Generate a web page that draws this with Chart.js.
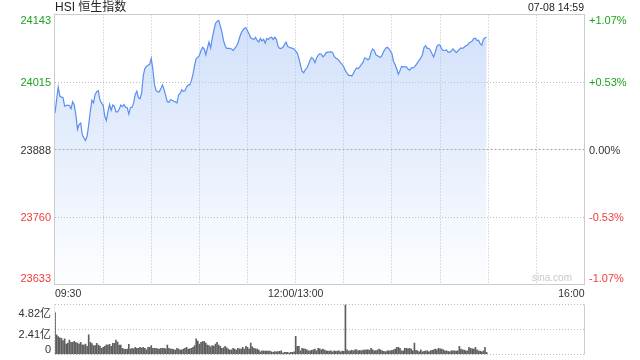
<!DOCTYPE html>
<html lang="zh-CN">
<head>
<meta charset="UTF-8">
<title>HSI 恒生指数</title>
<script src="https://cdn.jsdelivr.net/npm/chart.js"></script>
<style>
    html, body { margin: 0; padding: 0; background: #fff; }
    body {
        width: 640px; height: 360px; position: relative; overflow: hidden;
        font-family: "Liberation Sans", Arial, "Noto Sans CJK SC", sans-serif;
        color: #333;
    }
    canvas { position: absolute; left: 0; }
    #main { top: 0; }
    #vol { top: 296px; }
    .title { position: absolute; left: 55px; top: 0; font-size: 12px; line-height: 15px; color: #222; }
    .stamp { position: absolute; right: 56px; top: 0; font-size: 10.5px; line-height: 15px; color: #222; }
    .mark { position: absolute; left: 532px; top: 272px; font-size: 10px; line-height: 12px; color: #c8c8c8; }
</style>
</head>
<body>
<canvas id="main" width="640" height="360"></canvas>
<canvas id="vol" width="640" height="64"></canvas>
<div class="title">HSI 恒生指数</div>
<div class="stamp">07-08 14:59</div>
<div class="mark">sina.com</div>

<script>
    // previous close and minute data (index 0 = 09:30, 150 = 12:00/13:00)
    const prevClose = 23888;
    const sessionMinutes = 330;

    const prices = [
        23957, 23982, 24006, 23989, 23987, 23986, 23970, 23971, 23972, 23971,
        23965, 23978, 23972, 23954, 23926, 23935, 23938, 23916, 23910, 23905,
        23913, 23935, 23960, 23981, 23976, 23992, 23997, 23999, 23982, 23976,
        23972, 23951, 23943, 23960, 23973, 23962, 23972, 23970, 23959, 23959,
        23964, 23972, 23969, 23973, 23968, 23967, 23955, 23967, 23968, 23976,
        23992, 23998, 23986, 23984, 23995, 24027, 24041, 24045, 24047, 24049,
        24060, 24039, 24011, 23999, 23997, 23997, 24003, 24010, 24001,
        23990, 23978, 23977, 23982, 23981, 23979, 23978, 23976, 23991, 23994,
        24001, 23998, 23999, 24006, 24010, 24010, 24018, 24030, 24047, 24060,
        24062, 24066, 24075, 24081, 24078, 24067, 24080, 24091, 24080, 24098,
        24113, 24126, 24130, 24132, 24122, 24110, 24094, 24084, 24079, 24079,
        24079, 24078, 24075, 24079, 24083, 24089, 24099, 24108, 24113, 24117,
        24118, 24112, 24106, 24099, 24097, 24096, 24100, 24094, 24091, 24098,
        24093, 24096, 24089, 24098, 24096, 24099, 24100,
        24096, 24100, 24096, 24083, 24079, 24079, 24081, 24086, 24091, 24083,
        24081, 24080, 24079, 24078, 24074, 24070, 24060, 24047, 24036, 24033,
        24039, 24042, 24049, 24057, 24062, 24059, 24052, 24061, 24066, 24069,
        24068, 24063, 24066, 24071, 24072, 24072, 24073, 24071, 24064, 24061,
        24059, 24056, 24052, 24049, 24044, 24037, 24032, 24028, 24028, 24027,
        24032, 24038, 24042, 24041, 24044, 24049, 24053, 24061, 24060, 24057,
        24060, 24072, 24078, 24075, 24067,
        24065, 24063, 24062, 24067, 24074, 24079, 24081, 24079, 24074, 24069,
        24054, 24048, 24040, 24030, 24037, 24045, 24044, 24044, 24044, 24040,
        24038, 24042, 24042, 24044, 24048, 24052, 24057, 24061, 24067, 24081,
        24084, 24079, 24079, 24075, 24069, 24063, 24072, 24083, 24086, 24085,
        24078, 24075, 24075, 24076, 24072, 24072, 24074, 24078, 24075, 24071,
        24074, 24077, 24080, 24079, 24081, 24084, 24085, 24089, 24091, 24093,
        24098, 24098, 24094, 24094, 24088, 24085, 24096, 24099, 24100
    ];

    // volume in 亿
    const volumes = [
        4.04, 1.89, 1.73, 1.60, 1.56, 1.34, 1.50, 1.01, 1.10, 1.40,
        1.17, 1.17, 1.27, 1.15, 1.11, 1.01, 1.17, 0.94, 0.90, 1.01,
        0.78, 1.89, 1.17, 1.05, 0.85, 0.85, 1.07, 0.91, 0.80, 0.59,
        0.68, 0.78, 0.94, 0.90, 0.98, 0.78, 1.07, 1.07, 1.40, 1.20,
        0.91, 0.91, 0.59, 0.52, 0.50, 0.52, 0.98, 0.52, 0.59, 0.55,
        0.68, 0.59, 0.59, 0.68, 0.62, 0.68, 0.59, 0.46, 0.68, 0.70,
        0.85, 0.59, 0.59, 0.59, 0.55, 0.52, 0.59, 0.59, 0.59, 0.55,
        0.91, 0.59, 0.52, 0.52, 0.48, 0.42, 0.59, 0.52, 0.42, 0.45,
        0.52, 0.59, 0.68, 0.52, 0.55, 0.59, 0.68, 0.85, 1.50, 1.30,
        1.01, 1.17, 1.24, 1.27, 1.10, 0.91, 0.85, 0.75, 0.85, 0.80,
        1.01, 1.17, 0.91, 0.78, 0.59, 0.65, 0.78, 0.65, 0.52, 0.42,
        0.45, 0.59, 0.52, 0.42, 0.59, 0.55, 0.52, 0.68, 0.52, 0.78,
        0.70, 0.52, 1.11, 0.75, 0.59, 0.55, 0.52, 0.42, 0.26, 0.36,
        0.33, 0.33, 0.33, 0.33, 0.33, 0.26, 0.20, 0.29, 0.26, 0.29,
        0.30, 0.36, 0.13, 0.20, 0.20, 0.20, 0.13, 0.20, 0.20, 0.26,
        1.76, 0.78, 0.78, 0.36, 0.59, 0.55, 0.52, 0.46, 0.36, 0.36,
        0.40, 0.46, 0.52, 0.36, 0.59, 0.55, 0.46, 0.52, 0.42, 0.36,
        0.33, 0.33, 0.36, 0.26, 0.36, 0.30, 0.33, 0.36, 0.26, 0.33,
        0.30, 4.82, 0.46, 0.33, 0.36, 0.40, 0.36, 0.46, 0.46, 0.36,
        0.40, 0.36, 0.42, 0.42, 0.46, 0.44, 0.42, 0.59, 0.46, 0.36,
        0.38, 0.42, 0.52, 0.42, 0.36, 0.30, 0.26, 0.36, 0.36, 0.36,
        0.40, 0.46, 0.52, 0.68, 0.68, 0.60, 0.36, 0.36, 0.59, 0.59,
        0.55, 0.59, 0.52, 0.36, 1.11, 0.40, 0.36, 0.26, 0.46, 0.26,
        0.30, 0.36, 0.36, 0.26, 0.36, 0.40, 0.46, 0.52, 0.46, 0.59,
        0.55, 0.52, 0.46, 0.36, 0.36, 0.30, 0.26, 0.36, 0.36, 0.36,
        0.33, 0.36, 0.78, 0.52, 0.46, 0.42, 0.36, 0.36, 0.68, 0.59,
        0.55, 0.52, 0.68, 0.46, 0.36, 0.33, 0.26, 0.36, 0.68, 0.20
    ];

    const priceTicks = [23633, 23760, 23888, 24015, 24143];
    const pctLabels = ['-1.07%', '-0.53%', '0.00%', '+0.53%', '+1.07%'];
    const timeTicks = [0, 150, 330];
    const timeLabels = ['09:30', '12:00/13:00', '16:00'];
    const volTicks = [0, 2.41, 4.82];
    const volLabels = ['0', '2.41亿', '4.82亿'];

    const FONT = '"Liberation Sans", Arial, "Noto Sans CJK SC", sans-serif';
    const UP = '#1fa21f', DOWN = '#f03c3c', FLAT = '#333';
    const GRID = '#bdbdbd', FRAME = '#cccccc';
    const DOTS = [1, 2];

    const crisp = v => Math.round(v - 0.5) + 0.5;

    const mainDecor = {
        id: 'mainDecor',
        beforeDatasetsDraw(chart) {
            const { ctx, chartArea: a, scales: { y } } = chart;
            const py = crisp(y.getPixelForValue(prevClose));
            ctx.save();
            ctx.strokeStyle = '#a0a0a0';
            ctx.lineWidth = 1;
            ctx.setLineDash([2, 2]);
            ctx.beginPath();
            ctx.moveTo(54.5, py);
            ctx.lineTo(a.right, py);
            ctx.stroke();
            ctx.restore();
        },
        afterDraw(chart) {
            const { ctx, chartArea: a, scales: { x, y } } = chart;
            ctx.save();
            // frame
            ctx.strokeStyle = FRAME;
            ctx.lineWidth = 1;
            ctx.strokeRect(54.5, crisp(a.top), crisp(a.right) - 54.5, crisp(a.bottom) - crisp(a.top));

            // price / percent labels
            ctx.font = '11px ' + FONT;
            const last = priceTicks.length - 1;
            priceTicks.forEach((v, i) => {
                const py = y.getPixelForValue(v);
                const off = i === last ? 9.5 : (i === 0 ? -2.5 : 4);
                ctx.fillStyle = v > prevClose ? UP : (v < prevClose ? DOWN : FLAT);
                ctx.textAlign = 'right';
                ctx.fillText(String(v), 51, py + off);
                ctx.textAlign = 'left';
                ctx.fillText(pctLabels[i], a.right + 4.5, py + off);
            });

            // time labels
            ctx.font = '10.5px ' + FONT;
            ctx.fillStyle = '#333';
            timeTicks.forEach((t, i) => {
                const px = x.getPixelForValue(t);
                ctx.textAlign = i === 0 ? 'left' : (i === timeTicks.length - 1 ? 'right' : 'center');
                ctx.fillText(timeLabels[i], px, a.bottom + 12.5);
            });
            ctx.restore();
        }
    };

    new Chart(document.getElementById('main'), {
        type: 'line',
        data: {
            datasets: [{
                data: prices.map((p, i) => ({ x: i, y: p })),
                borderColor: '#5a8ff0',
                borderWidth: 1.2,
                pointRadius: 0,
                tension: 0,
                fill: 'start',
                backgroundColor: (c) => {
                    const a = c.chart.chartArea;
                    if (!a) return 'rgba(165,195,245,0.3)';
                    const g = c.chart.ctx.createLinearGradient(0, a.top, 0, a.bottom);
                    g.addColorStop(0, 'rgba(165,195,245,0.52)');
                    g.addColorStop(1, 'rgba(165,195,245,0.02)');
                    return g;
                }
            }]
        },
        options: {
            responsive: false,
            animation: false,
            devicePixelRatio: 1,
            layout: { padding: { left: 55, right: 55.5, top: 14.5, bottom: 75.5 } },
            plugins: { legend: { display: false }, tooltip: { enabled: false } },
            scales: {
                x: {
                    type: 'linear', min: 0, max: sessionMinutes,
                    ticks: { display: false, stepSize: 30 },
                    grid: {
                        drawTicks: false,
                        borderDash: DOTS,
                        color: c => (c.tick.value === 0 || c.tick.value === sessionMinutes) ? 'transparent' : GRID
                    },
                    border: { display: false, dash: DOTS },
                    afterFit: s => { s.height = 0; }
                },
                y: {
                    min: priceTicks[0], max: priceTicks[priceTicks.length - 1],
                    afterBuildTicks: s => { s.ticks = priceTicks.map(v => ({ value: v })); },
                    ticks: { display: false },
                    grid: {
                        drawTicks: false,
                        borderDash: DOTS,
                        color: c => c.tick.value === prevClose ? 'transparent' : GRID
                    },
                    border: { display: false, dash: DOTS },
                    afterFit: s => { s.width = 0; }
                }
            }
        },
        plugins: [mainDecor]
    });

    const volDecor = {
        id: 'volDecor',
        afterDraw(chart) {
            const { ctx, chartArea: a, scales: { y } } = chart;
            ctx.save();
            ctx.strokeStyle = FRAME;
            ctx.lineWidth = 1;
            ctx.beginPath();
            ctx.moveTo(crisp(a.right), crisp(a.top));
            ctx.lineTo(crisp(a.right), crisp(a.bottom));
            ctx.stroke();
            // left dotted edge
            ctx.strokeStyle = GRID;
            ctx.setLineDash(DOTS);
            ctx.beginPath();
            ctx.moveTo(54.5, crisp(a.top));
            ctx.lineTo(54.5, crisp(a.bottom));
            ctx.stroke();
            ctx.setLineDash([]);

            ctx.font = '11px ' + FONT;
            ctx.fillStyle = '#333';
            ctx.textAlign = 'right';
            const last = volTicks.length - 1;
            volTicks.forEach((v, i) => {
                const py = y.getPixelForValue(v);
                const off = i === last ? 12 : (i === 0 ? -2 : 8);
                ctx.fillText(volLabels[i], 51, py + off);
            });
            ctx.restore();
        }
    };

    new Chart(document.getElementById('vol'), {
        type: 'bar',
        data: {
            datasets: [{
                data: volumes.map((v, i) => ({ x: i, y: v })),
                backgroundColor: '#5e5e5e',
                barThickness: 1
            }]
        },
        options: {
            responsive: false,
            animation: false,
            devicePixelRatio: 1,
            layout: { padding: { left: 55, right: 55.5, top: 8.5, bottom: 5.5 } },
            plugins: { legend: { display: false }, tooltip: { enabled: false } },
            scales: {
                x: {
                    type: 'linear', min: 0, max: sessionMinutes, offset: false,
                    ticks: { display: false, stepSize: 30 },
                    grid: { display: false, offset: false },
                    border: { display: false },
                    afterFit: s => { s.height = 0; }
                },
                y: {
                    min: 0, max: volTicks[volTicks.length - 1],
                    afterBuildTicks: s => { s.ticks = volTicks.map(v => ({ value: v })); },
                    ticks: { display: false },
                    grid: { drawTicks: false, borderDash: DOTS, color: GRID },
                    border: { display: false, dash: DOTS },
                    afterFit: s => { s.width = 0; }
                }
            }
        },
        plugins: [volDecor]
    });
</script>
</body>
</html>
